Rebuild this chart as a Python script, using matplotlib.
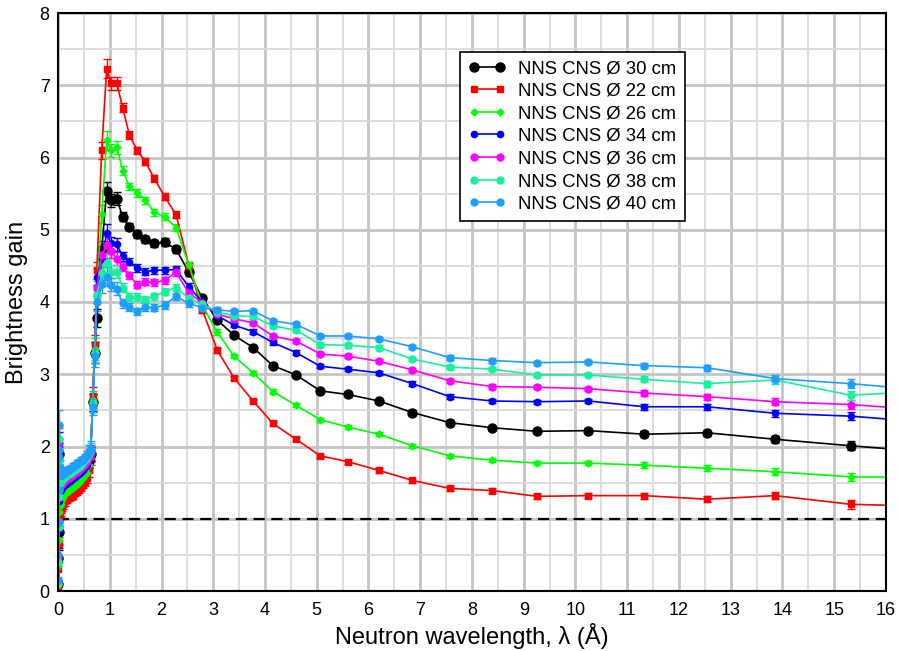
import matplotlib
matplotlib.use('Agg')
import matplotlib.pyplot as plt
from matplotlib.ticker import MultipleLocator

plt.rcParams['font.family'] = ['Liberation Sans', 'DejaVu Sans']

# wavelength points (Angstrom): fine bins at short wavelength, then coarse ones
x_low = [0.003, 0.007, 0.011, 0.015, 0.019, 0.023, 0.028, 0.034, 0.042, 0.052, 0.065,
         0.08, 0.1, 0.13, 0.17, 0.21, 0.25, 0.29, 0.33, 0.37, 0.41, 0.45, 0.49, 0.53, 0.57,
         0.6, 0.63, 0.67, 0.71]
x_main = [0.75, 0.845, 0.94, 1.025, 1.135, 1.25, 1.38, 1.53, 1.69, 1.86, 2.06, 2.28,
          2.53, 2.79, 3.08, 3.40, 3.77, 4.15, 4.6, 5.07, 5.6, 6.2, 6.85, 7.57, 8.39,
          9.26, 10.25, 11.33, 12.54, 13.86, 15.32, 16.9]

err_low = [0.3, 0.3, 0.25, 0.25, 0.2, 0.2, 0.15, 0.12, 0.1, 0.08, 0.07,
           0.06, 0.06, 0.06, 0.05, 0.05, 0.05, 0.05, 0.05, 0.05, 0.05, 0.05, 0.05, 0.05, 0.06,
           0.1, 0.1, 0.12, 0.15]
err_main = [0.12, 0.12, 0.13, 0.09, 0.09, 0.06, 0.05, 0.05, 0.05, 0.05, 0.05, 0.05,
            0.05, 0.04, 0.04, 0.03, 0.03, 0.03, 0.03, 0.03, 0.03, 0.03, 0.03, 0.03, 0.03,
            0.03, 0.03, 0.04, 0.04, 0.05, 0.06, 0.06]

labels = ['NNS CNS Ø 30 cm', 'NNS CNS Ø 22 cm', 'NNS CNS Ø 26 cm', 'NNS CNS Ø 34 cm',
          'NNS CNS Ø 36 cm', 'NNS CNS Ø 38 cm', 'NNS CNS Ø 40 cm']

gain_30_low = [0.1, 0.45, 0.82, 1.2, 1.55, 1.9, 1.6, 1.35, 1.3, 1.32, 1.38,
               1.38, 1.41, 1.44, 1.46, 1.48, 1.5, 1.52, 1.54, 1.56, 1.58, 1.61, 1.64, 1.67, 1.71,
               1.8, 1.9, 2.61, 3.3]
gain_30 = [3.78, 4.73, 5.53, 5.41, 5.43, 5.18, 5.04, 4.94, 4.87, 4.81, 4.83, 4.73,
           4.41, 4.05, 3.75, 3.54, 3.37, 3.12, 2.99, 2.77, 2.72, 2.63, 2.47, 2.33, 2.26,
           2.21, 2.22, 2.17, 2.19, 2.10, 2.01, 1.92]

gain_22_low = [0.05, 0.3, 0.65, 1.0, 1.35, 1.6, 1.45, 1.15, 1.08, 1.12, 1.15,
               1.17, 1.2, 1.24, 1.27, 1.29, 1.31, 1.33, 1.36, 1.38, 1.41, 1.44, 1.47, 1.51, 1.56,
               1.68, 1.85, 2.7, 3.4]
gain_22 = [4.44, 6.10, 7.23, 7.03, 7.03, 6.69, 6.31, 6.10, 5.94, 5.71, 5.46, 5.21,
           4.50, 3.89, 3.33, 2.95, 2.63, 2.32, 2.10, 1.87, 1.79, 1.67, 1.53, 1.42, 1.39,
           1.31, 1.32, 1.32, 1.27, 1.32, 1.20, 1.17]

gain_26_low = [0.08, 0.35, 0.7, 1.1, 1.45, 1.75, 1.5, 1.25, 1.18, 1.2, 1.25,
               1.27, 1.3, 1.34, 1.37, 1.39, 1.41, 1.43, 1.46, 1.48, 1.5, 1.53, 1.56, 1.6, 1.64,
               1.75, 1.88, 2.65, 3.35]
gain_26 = [4.17, 5.22, 6.24, 6.10, 6.14, 5.82, 5.60, 5.51, 5.41, 5.24, 5.18, 5.03,
           4.51, 3.95, 3.58, 3.25, 3.02, 2.76, 2.57, 2.37, 2.27, 2.17, 2.01, 1.87, 1.81,
           1.77, 1.77, 1.74, 1.70, 1.65, 1.58, 1.57]

gain_34_low = [0.1, 0.4, 0.85, 1.25, 1.65, 2.0, 1.7, 1.45, 1.38, 1.4, 1.45,
               1.42, 1.45, 1.48, 1.5, 1.52, 1.54, 1.56, 1.58, 1.6, 1.62, 1.65, 1.68, 1.71, 1.75,
               1.82, 1.9, 2.6, 3.3]
gain_34 = [4.35, 4.6, 4.95, 4.81, 4.80, 4.63, 4.56, 4.47, 4.42, 4.44, 4.44, 4.45,
           4.21, 4.00, 3.81, 3.68, 3.59, 3.44, 3.30, 3.11, 3.07, 3.02, 2.87, 2.69, 2.63,
           2.62, 2.63, 2.55, 2.55, 2.46, 2.42, 2.33]

gain_36_low = [0.12, 0.45, 0.9, 1.3, 1.7, 2.05, 1.75, 1.5, 1.45, 1.47, 1.5,
               1.48, 1.5, 1.53, 1.55, 1.57, 1.59, 1.61, 1.63, 1.65, 1.67, 1.7, 1.73, 1.76, 1.8,
               1.86, 1.92, 2.6, 3.3]
gain_36 = [4.2, 4.65, 4.79, 4.70, 4.60, 4.49, 4.37, 4.24, 4.28, 4.27, 4.30, 4.41,
           4.12, 3.99, 3.83, 3.77, 3.71, 3.53, 3.46, 3.28, 3.25, 3.18, 3.06, 2.91, 2.83,
           2.82, 2.80, 2.74, 2.69, 2.62, 2.58, 2.50]

gain_38_low = [0.1, 0.4, 0.88, 1.3, 1.75, 2.1, 1.8, 1.55, 1.5, 1.52, 1.55,
               1.53, 1.55, 1.58, 1.6, 1.62, 1.64, 1.66, 1.68, 1.7, 1.72, 1.75, 1.78, 1.81, 1.85,
               1.9, 1.95, 2.6, 3.3]
gain_38 = [4.1, 4.4, 4.54, 4.42, 4.42, 4.20, 4.07, 4.07, 4.03, 4.08, 4.14, 4.20,
           4.05, 3.97, 3.86, 3.81, 3.80, 3.67, 3.61, 3.41, 3.40, 3.37, 3.21, 3.10, 3.07,
           2.99, 2.99, 2.93, 2.87, 2.92, 2.71, 2.77]

gain_40_low = [0.15, 0.5, 0.95, 1.4, 1.85, 2.3, 1.95, 1.7, 1.6, 1.6, 1.62,
               1.6, 1.62, 1.64, 1.66, 1.68, 1.7, 1.72, 1.74, 1.76, 1.78, 1.8, 1.82, 1.85, 1.88,
               1.92, 1.97, 2.55, 3.25]
gain_40 = [4.0, 4.25, 4.35, 4.24, 4.18, 3.98, 3.93, 3.87, 3.93, 3.92, 3.96, 4.08,
           3.98, 3.92, 3.89, 3.87, 3.88, 3.74, 3.69, 3.53, 3.53, 3.49, 3.38, 3.23, 3.19,
           3.16, 3.17, 3.12, 3.09, 2.94, 2.87, 2.77]

series = [
    (gain_30_low + gain_30, 'black', 'o', 6.5),
    (gain_22_low + gain_22, '#ff0000', 's', 4.5),
    (gain_26_low + gain_26, '#00ff00', 'D', 3.5),
    (gain_34_low + gain_34, '#0000ff', 'o', 4.5),
    (gain_36_low + gain_36, '#ff00ff', 'o', 5),
    (gain_38_low + gain_38, '#19f09c', 'o', 5),
    (gain_40_low + gain_40, '#1f9eff', 'o', 5),
]

x_all = x_low + x_main
err_all = err_low + err_main

fig = plt.figure(figsize=(8.99, 6.51), dpi=100)
ax = fig.add_axes([58 / 899, 60 / 651, 828 / 899, 578 / 651])

handles = []
for (y, color, marker, ms), label in zip(series, labels):
    c = ax.errorbar(x_all, y, yerr=err_all, color=color, marker=marker, markersize=ms,
                    linewidth=1.2, elinewidth=1, capsize=3, label=label)
    handles.append(c.lines[0])

ax.axhline(1, color='black', linestyle=(0, (5, 3)), linewidth=1.6)

ax.set_xlim(0, 16)
ax.set_ylim(0, 8)
ax.xaxis.set_major_locator(MultipleLocator(1))
ax.xaxis.set_minor_locator(MultipleLocator(0.5))
ax.yaxis.set_major_locator(MultipleLocator(1))
ax.yaxis.set_minor_locator(MultipleLocator(0.5))
ax.set_axisbelow(True)
ax.grid(which='major', color='#c4c4c4', linewidth=2)
ax.grid(which='minor', color='#dadada', linewidth=1.3)
ax.tick_params(which='both', length=0, labelsize=13)
ax.tick_params(axis='x', pad=8)
ax.tick_params(axis='y', pad=6)
for s in ax.spines.values():
    s.set_linewidth(1.5)

ax.set_xlabel('Neutron wavelength, λ (Å)', fontsize=17, labelpad=3)
ax.set_ylabel('Brightness gain', fontsize=17, labelpad=8)

leg = ax.legend(handles, labels, loc='upper left', bbox_to_anchor=(0.4855, 0.9325),
                fontsize=13.3, numpoints=2, handlelength=2.0, handletextpad=0.7,
                labelspacing=0.3, borderpad=0.45, borderaxespad=0,
                fancybox=False, framealpha=1, edgecolor='black')
leg.get_frame().set_linewidth(1.2)

fig.savefig('out.png', dpi=100)
